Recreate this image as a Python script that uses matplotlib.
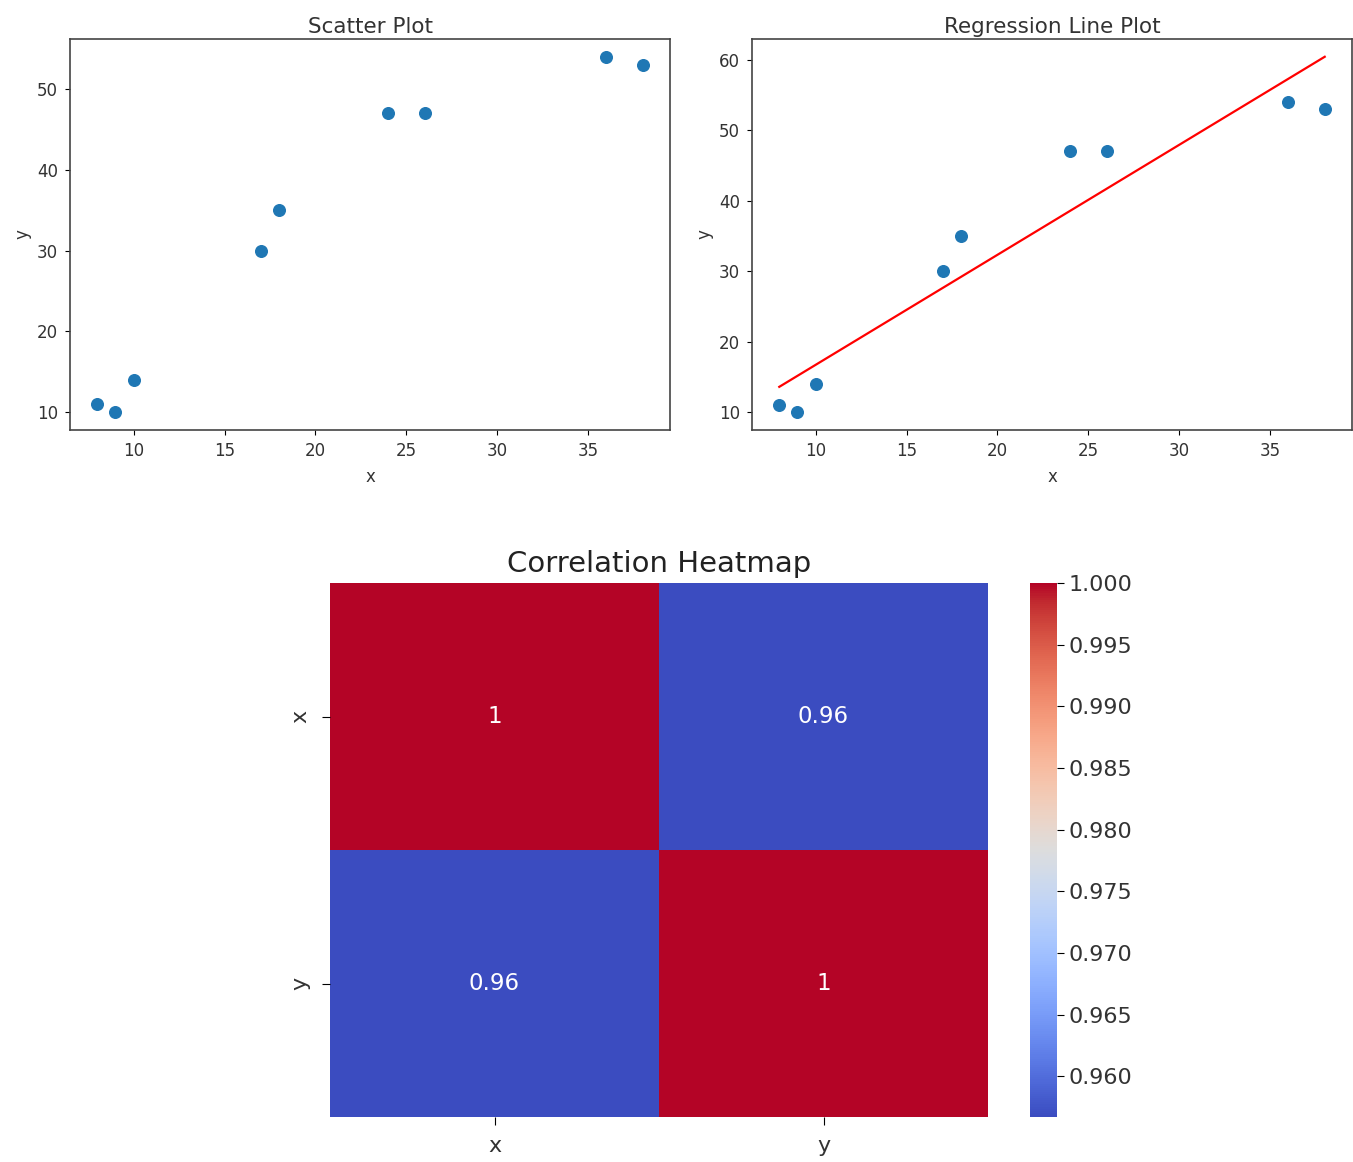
import numpy as np
import pandas as pd
import matplotlib
matplotlib.use("Agg")
import matplotlib.pyplot as plt
import seaborn as sns

# data
x_vals = [8, 9, 10, 17, 18, 24, 26, 36, 38]
y_vals = [11, 10, 14, 30, 35, 47, 47, 54, 53]

# regression line end points
reg_x = [8, 38]
reg_y = [13.6, 60.4]

# correlation matrix shown in the heatmap
corr_labels = ["x", "y"]
corr_vals = [[1.0, 0.9567],
             [0.9567, 1.0]]

W, H = 1353, 1162
fig = plt.figure(figsize=(W / 100, H / 100), dpi=100)

tick_fs = 12
title_fs = 15.5

ax1 = fig.add_axes([70 / W, 1 - 430 / H, 600 / W, 391 / H])
ax1.scatter(x_vals, y_vals, s=70, color="#1f77b4")
ax1.set_title("Scatter Plot", fontsize=title_fs, color="#333333", pad=4)
ax1.set_xlabel("x", fontsize=tick_fs, color="#333333", labelpad=6)
ax1.set_ylabel("y", fontsize=tick_fs, color="#333333")
ax1.tick_params(labelsize=tick_fs, labelcolor="#333333", pad=5)

ax2 = fig.add_axes([752 / W, 1 - 430 / H, 600 / W, 391 / H])
ax2.scatter(x_vals, y_vals, s=70, color="#1f77b4")
ax2.plot(reg_x, reg_y, color="red", lw=1.6)
ax2.set_title("Regression Line Plot", fontsize=title_fs, color="#333333", pad=4)
ax2.set_xlabel("x", fontsize=tick_fs, color="#333333", labelpad=6)
ax2.set_ylabel("y", fontsize=tick_fs, color="#333333")
ax2.tick_params(labelsize=tick_fs, labelcolor="#333333", pad=5)

for ax in (ax1, ax2):
    for sp in ax.spines.values():
        sp.set_color("#444444")
        sp.set_linewidth(1.2)

ax3 = fig.add_axes([330 / W, 1 - 1117 / H, 658 / W, 534 / H])
cax = fig.add_axes([1030 / W, 1 - 1117 / H, 27 / W, 534 / H])
corr = pd.DataFrame(corr_vals, index=corr_labels, columns=corr_labels)
sns.heatmap(corr, annot=True, cmap="coolwarm", ax=ax3, cbar_ax=cax,
            annot_kws={"fontsize": 16.5})
ax3.set_title("Correlation Heatmap", fontsize=21, color="#222222", pad=8)
ax3.tick_params(labelsize=16, labelcolor="#333333", length=6, pad=8)
cax.tick_params(labelsize=16, labelcolor="#333333", length=5)

fig.savefig("out.png", dpi=100)
